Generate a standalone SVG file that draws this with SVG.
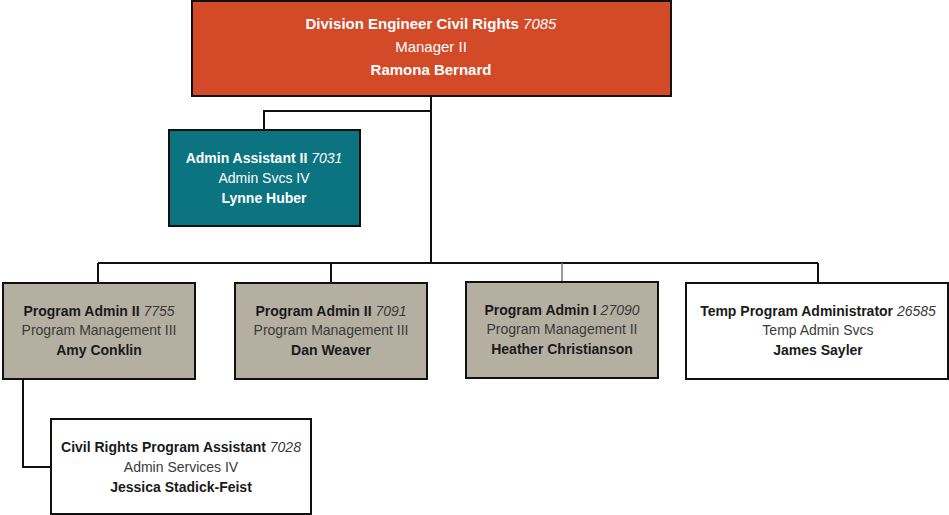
<svg xmlns="http://www.w3.org/2000/svg" width="949" height="515" viewBox="0 0 949 515">
<style>
text{font-family:"Liberation Sans",Arial,sans-serif;font-size:14px;text-anchor:middle}
.b{font-weight:bold}
.i{font-style:italic;font-weight:normal}
.box{stroke:#111;stroke-width:2}
.w{fill:#fff}
.d{fill:#1a1a1a}
.g{fill:#3a3a3a}
.top text{font-size:15px}
.conn{fill:none;stroke:#111;stroke-width:2}
</style>
<rect width="949" height="515" fill="#fff"/>
<g id="connectors">
<path class="conn" d="M431 96V263M431 111H264V130M98 263H818M98 263V283M331 263V283M818 263V283M23 379V467H51"/>
<path d="M562 263V282" fill="none" stroke="#777" stroke-width="1.5"/>
</g>
<g id="n-division" class="top">
<rect class="box" x="192" y="1" width="479" height="95" fill="#D34A28"/>
<text x="431" y="29" class="b w">Division Engineer Civil Rights <tspan class="i">7085</tspan></text>
<text x="431" y="52" class="w">Manager II</text>
<text x="431" y="75" class="b w">Ramona Bernard</text>
</g>
<g id="n-admin">
<rect class="box" x="169" y="130" width="191" height="96" fill="#0B7480"/>
<text x="264" y="163" class="b w">Admin Assistant II <tspan class="i">7031</tspan></text>
<text x="264" y="183" class="w">Admin Svcs IV</text>
<text x="264" y="203" class="b w">Lynne Huber</text>
</g>
<g id="n-pa1">
<rect class="box" x="3" y="283" width="192" height="96" fill="#B5AFA2"/>
<text x="99" y="316" class="b d">Program Admin II <tspan class="i g">7755</tspan></text>
<text x="99" y="335" class="g">Program Management III</text>
<text x="99" y="355" class="b d">Amy Conklin</text>
</g>
<g id="n-pa2">
<rect class="box" x="235" y="283" width="192" height="96" fill="#B5AFA2"/>
<text x="331" y="316" class="b d">Program Admin II <tspan class="i g">7091</tspan></text>
<text x="331" y="335" class="g">Program Management III</text>
<text x="331" y="355" class="b d">Dan Weaver</text>
</g>
<g id="n-pa3">
<rect class="box" x="466" y="282" width="192" height="96" fill="#B5AFA2"/>
<text x="562" y="315" class="b d">Program Admin I <tspan class="i g">27090</tspan></text>
<text x="562" y="334" class="g">Program Management II</text>
<text x="562" y="354" class="b d">Heather Christianson</text>
</g>
<g id="n-temp">
<rect class="box" x="686" y="283" width="262" height="96" fill="#fff"/>
<text x="818" y="316" class="b d">Temp Program Administrator <tspan class="i g">26585</tspan></text>
<text x="818" y="335" class="g">Temp Admin Svcs</text>
<text x="818" y="355" class="b d">James Sayler</text>
</g>
<g id="n-crpa">
<rect class="box" x="51" y="419" width="260" height="95" fill="#fff"/>
<text x="181" y="452" class="b d">Civil Rights Program Assistant <tspan class="i g">7028</tspan></text>
<text x="181" y="472" class="g">Admin Services IV</text>
<text x="181" y="492" class="b d">Jessica Stadick-Feist</text>
</g>
</svg>
